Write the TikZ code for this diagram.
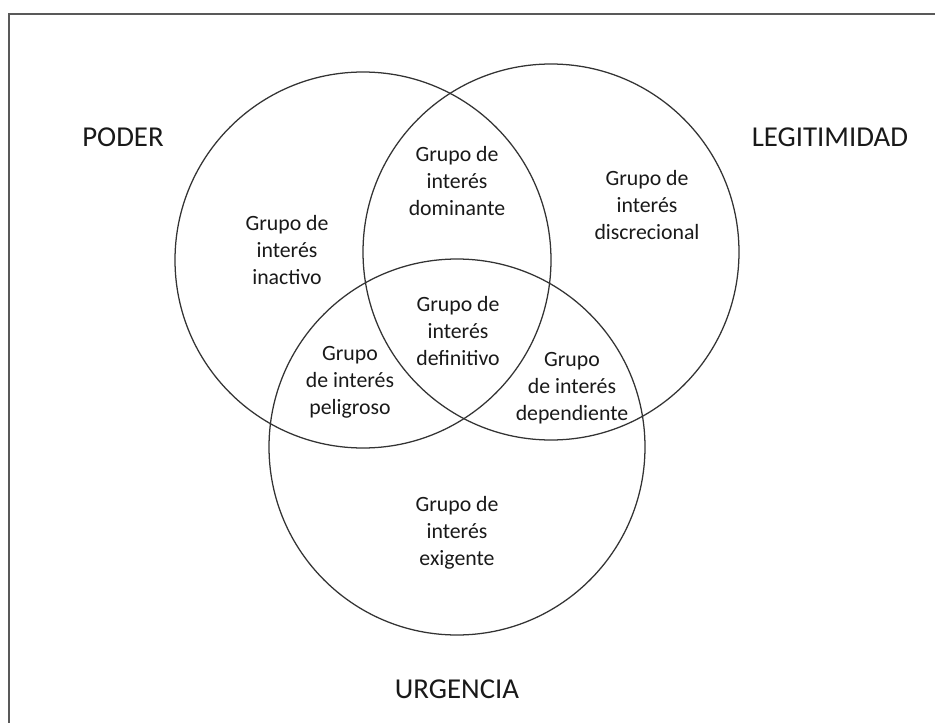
\documentclass[tikz,border=0pt]{standalone}
\usepackage{fontspec}
\setmainfont{Carlito}
\tikzset{
  conjunto/.style={draw=black!80, line width=0.9pt},
  atributo/.style={font=\fontsize{20.5}{24}\selectfont, text=black!90},
  grupo/.style={align=center, font=\fontsize{15.5}{19.2}\selectfont, text=black!90, inner sep=0pt},
}
\begin{document}
\begin{tikzpicture}[x=0.025cm, y=-0.025cm]
  \useasboundingbox (0,0) rectangle (935,723);
  % marco
  \draw[black!65, line width=1.4pt] (9,723) -- (9,14) -- (935,14);
  % circulos
  \coordinate (cP) at (363,260);
  \coordinate (cL) at (551,252);
  \coordinate (cU) at (457,447);
  \draw[conjunto] (cP) circle (188);
  \draw[conjunto] (cL) circle (188);
  \draw[conjunto] (cU) circle (188);
  % atributos
  \node[atributo] (poder) at (123,137) {PODER};
  \node[atributo] (legitimidad) at (830,137) {LEGITIMIDAD};
  \node[atributo] (urgencia) at (457,689) {URGENCIA};
  % grupos de interes
  \node[grupo] (inactivo) at (287,250) {Grupo de\\interés\\inactivo};
  \node[grupo] (dominante) at (457,181) {Grupo de\\interés\\dominante};
  \node[grupo] (discrecional) at (647,205) {Grupo de\\interés\\discrecional};
  \node[grupo] (definitivo) at (458,331) {Grupo de\\interés\\definitivo};
  \node[grupo] (peligroso) at (350,382) {Grupo\\de interés\\peligroso};
  \node[grupo] (dependiente) at (572,388) {Grupo\\de interés\\dependiente};
  \node[grupo] (exigente) at (457,533) {Grupo de\\interés\\exigente};
\end{tikzpicture}
\end{document}
